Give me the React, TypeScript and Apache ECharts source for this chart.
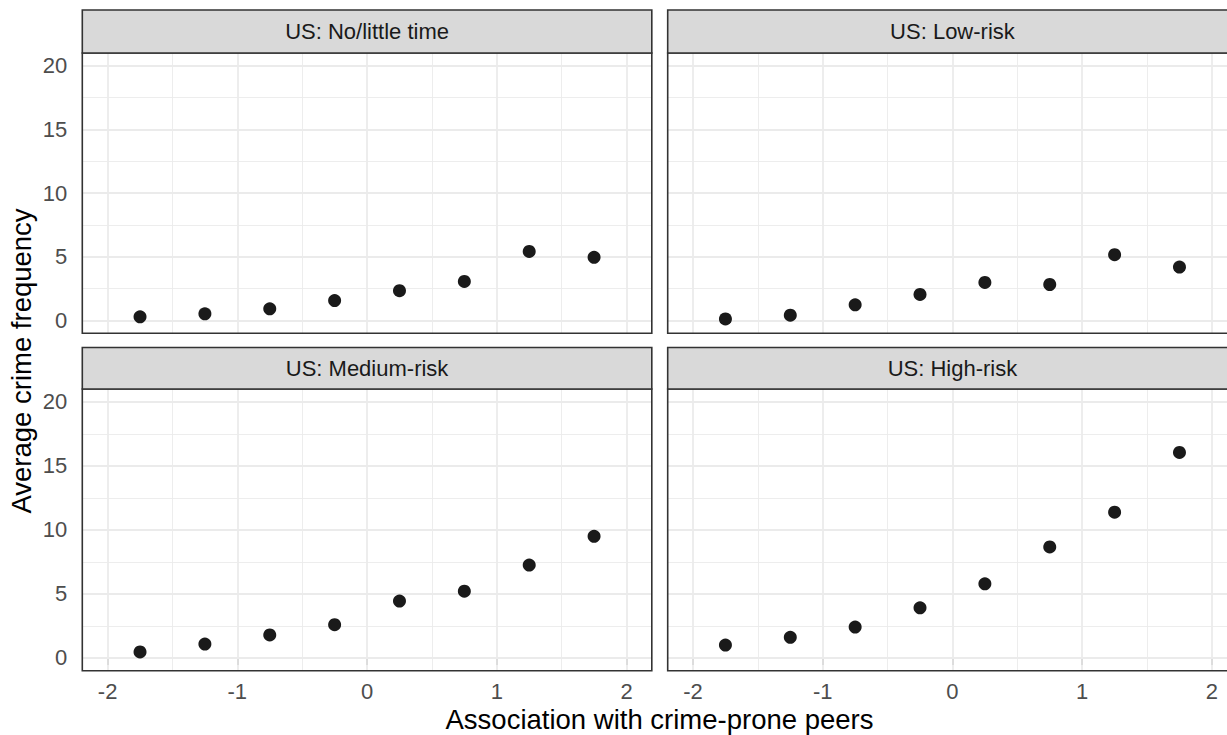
import React, { useEffect, useRef } from "react";
import * as echarts from "echarts";

const panelTitles = ["US: No/little time", "US: Low-risk", "US: Medium-risk", "US: High-risk"];
const xValues = [-1.75, -1.25, -0.75, -0.25, 0.25, 0.75, 1.25, 1.75];
const noLittleTime = [0.29, 0.53, 0.92, 1.57, 2.34, 3.07, 5.43, 4.96];
const lowRisk = [0.13, 0.42, 1.24, 2.05, 2.99, 2.83, 5.17, 4.2];
const mediumRisk = [0.47, 1.09, 1.8, 2.6, 4.44, 5.22, 7.25, 9.5];
const highRisk = [1.01, 1.61, 2.41, 3.92, 5.79, 8.67, 11.38, 16.05];
const xTicks = [-2, -1, 0, 1, 2];
const xMinor = [-1.5, -0.5, 0.5, 1.5];
const yTicks = [0, 5, 10, 15, 20];
const yMinor = [2.5, 7.5, 12.5, 17.5];
const X_MIN = -2.195;
const X_MAX = 2.195;
const Y_MIN = -1;
const Y_MAX = 21;
const xTitle = "Association with crime-prone peers";
const yTitle = "Average crime frequency";

const FONT = "'Liberation Sans', Arial, Helvetica, sans-serif";

export default function App() {
  const ref = useRef<HTMLDivElement>(null);

  useEffect(() => {
    document.body.style.margin = "0";
    if (!ref.current) return;
    const chart = echarts.init(ref.current, null, { renderer: "svg" });
    const seriesData = [noLittleTime, lowRisk, mediumRisk, highRisk];

    const leftCol = 82.3;
    const rightCol = 667.7;
    const panelW = 569.5;
    const rows = [
      { top: 53, height: 280.3, stripTop: 10 },
      { top: 389, height: 281.8, stripTop: 347.5 },
    ];
    const panels = [0, 1, 2, 3].map((i) => {
      const r = rows[Math.floor(i / 2)];
      return {
        left: i % 2 === 0 ? leftCol : rightCol,
        top: r.top,
        width: panelW,
        height: r.height,
        stripTop: r.stripTop,
      };
    });

    const grid = panels.map((p) => ({
      left: p.left,
      top: p.top,
      width: p.width,
      height: p.height,
      containLabel: false,
      show: true,
      backgroundColor: "#FFFFFF",
      borderWidth: 0,
    }));

    const xAxis = panels.map((p, i) => {
      const bottom = i >= 2;
      return {
        type: "value",
        gridIndex: i,
        min: X_MIN,
        max: X_MAX,
        splitNumber: 4,
        axisLine: { show: false },
        splitLine: { show: false },
        axisTick: {
          show: bottom,
          customValues: xTicks,
          length: 7,
          lineStyle: { color: "#333333", width: 1.6 },
        },
        axisLabel: {
          show: bottom,
          customValues: xTicks,
          fontSize: 22,
          color: "#4D4D4D",
          fontFamily: FONT,
          margin: 10,
          showMinLabel: true,
          showMaxLabel: true,
          formatter: (v: number) => (xTicks.indexOf(v) >= 0 ? String(v) : ""),
        },
      };
    });

    const yAxis = panels.map((p, i) => {
      const left = i % 2 === 0;
      return {
        type: "value",
        gridIndex: i,
        min: Y_MIN,
        max: Y_MAX,
        splitNumber: 4,
        axisLine: { show: false },
        splitLine: { show: false },
        axisTick: {
          show: left,
          customValues: yTicks,
          length: 7,
          lineStyle: { color: "#333333", width: 1.6 },
        },
        axisLabel: {
          show: left,
          customValues: yTicks,
          fontSize: 22,
          color: "#4D4D4D",
          fontFamily: FONT,
          margin: 15,
          formatter: (v: number) => (yTicks.indexOf(v) >= 0 ? String(v) : ""),
        },
      };
    });

    const gridLineData = [
      ...xMinor.map((v) => ({ xAxis: v, lineStyle: { width: 0.9, color: "#EBEBEB", type: "solid" } })),
      ...yMinor.map((v) => ({ yAxis: v, lineStyle: { width: 0.9, color: "#EBEBEB", type: "solid" } })),
      ...xTicks.map((v) => ({ xAxis: v, lineStyle: { width: 1.8, color: "#EBEBEB", type: "solid" } })),
      ...yTicks.map((v) => ({ yAxis: v, lineStyle: { width: 1.8, color: "#EBEBEB", type: "solid" } })),
    ];

    const series: any[] = [];
    panels.forEach((p, i) => {
      series.push({
        type: "scatter",
        xAxisIndex: i,
        yAxisIndex: i,
        data: [],
        z: 1,
        silent: true,
        markLine: {
          silent: true,
          symbol: ["none", "none"],
          label: { show: false },
          z: 1,
          animation: false,
          data: gridLineData,
        },
      });
      series.push({
        type: "scatter",
        name: panelTitles[i],
        xAxisIndex: i,
        yAxisIndex: i,
        z: 5,
        symbol: "circle",
        symbolSize: 13,
        itemStyle: { color: "#1A1A1A", opacity: 1 },
        data: xValues.map((x, k) => [x, seriesData[i][k]]),
      });
    });

    const graphic: any[] = [];
    panels.forEach((p, i) => {
      graphic.push({
        type: "rect",
        z: 100,
        silent: true,
        shape: { x: p.left, y: p.top, width: p.width, height: p.height },
        style: { fill: "none", stroke: "#333333", lineWidth: 1.6 },
      });
      graphic.push({
        type: "rect",
        z: 100,
        silent: true,
        shape: { x: p.left, y: p.stripTop, width: p.width, height: p.top - p.stripTop },
        style: { fill: "#D9D9D9", stroke: "#333333", lineWidth: 1.6 },
      });
      graphic.push({
        type: "text",
        z: 101,
        silent: true,
        x: p.left + p.width / 2,
        y: (p.stripTop + p.top) / 2,
        style: {
          text: panelTitles[i],
          fontSize: 22,
          fontFamily: FONT,
          fill: "#1A1A1A",
          align: "center",
          verticalAlign: "middle",
        },
      });
    });
    graphic.push({
      type: "text",
      z: 101,
      silent: true,
      x: 659.5,
      y: 719,
      style: {
        text: xTitle,
        fontSize: 27.5,
        fontFamily: FONT,
        fill: "#000000",
        align: "center",
        verticalAlign: "middle",
      },
    });
    graphic.push({
      type: "text",
      z: 101,
      silent: true,
      x: 21.5,
      y: 361,
      rotation: Math.PI / 2,
      style: {
        text: yTitle,
        fontSize: 27.5,
        fontFamily: FONT,
        fill: "#000000",
        align: "center",
        verticalAlign: "middle",
      },
    });

    chart.setOption({
      animation: false,
      backgroundColor: "#FFFFFF",
      grid,
      xAxis,
      yAxis,
      series,
      graphic,
    });

    return () => {
      chart.dispose();
    };
  }, []);

  return (
    <div style={{ width: 1227, height: 735, overflow: "hidden", position: "relative", background: "#FFFFFF" }}>
      <div ref={ref} style={{ width: 1240, height: 735 }} />
    </div>
  );
}
